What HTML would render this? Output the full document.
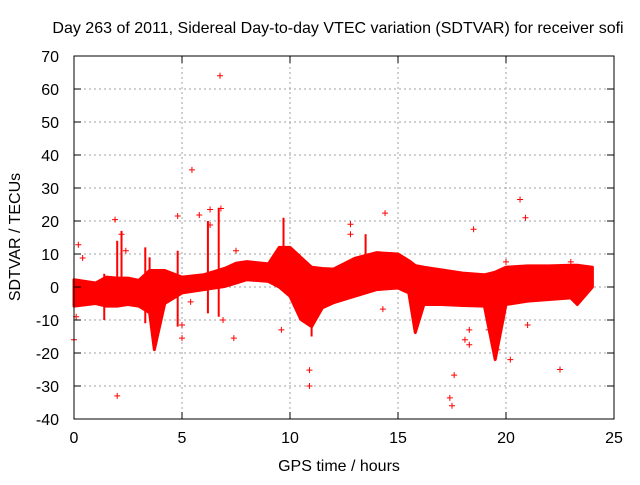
<!DOCTYPE html>
<html><head><meta charset="utf-8"><style>
body{margin:0;background:#fff;}
svg text{font-family:"Liberation Sans",sans-serif;font-size:16px;fill:#000;}
</style></head><body>
<svg id="chart" width="640" height="480" viewBox="0 0 640 480" xmlns="http://www.w3.org/2000/svg">
<rect width="640" height="480" fill="#fff"/>
<text x="338" y="33" text-anchor="middle">Day 263 of 2011, Sidereal Day-to-day VTEC variation (SDTVAR) for receiver sofi</text>
<text x="339" y="471" text-anchor="middle">GPS time / hours</text>
<text x="0" y="0" transform="translate(20,237) rotate(-90)" text-anchor="middle">SDTVAR / TECUs</text>
<g id="grid"></g>
<g id="band"></g>
<g id="ticks"></g>
</svg>
<script>
const xTicks=[0,5,10,15,20,25];
const yTicks=[-40,-30,-20,-10,0,10,20,30,40,50,60,70];
const bandT =[0,1,1.5,2,2.5,3,3.5,3.72,4.2,5,6,7,7.5,8,9,9.5,10,10.5,11,11.5,12,13,14,15,15.5,15.8,16.2,17,18,19,19.5,20,21,22,23,23.3,24];
const bandHi=[2.2,1.2,3,2.7,2.7,2,5,5,5,3,3.7,5.7,7.2,7.7,7,12,12,9,6,5.6,5.4,8.7,10.4,10,8,6.5,6,5.2,4.2,3.7,4.5,6,6.4,6.4,6.6,6.6,6];
const bandLo=[-5.8,-5,-5.8,-5.8,-5.3,-5.8,-7.8,-19,-5,-1.8,-0.8,0.2,1.2,2.2,1.7,0,-2.8,-9.8,-12,-6.3,-4.8,-2.8,-0.8,-0.3,-1.8,-13.8,-5.3,-5.3,-5.6,-5.8,-22,-5.3,-4.3,-3.8,-3.3,-5.3,0];
const spikeT =[9.7,13.5,2.0,2.2,3.3,3.5,4.8,6.7,11.0,6.2,1.4];
const spikeLo=[5,8,0,-2,-11,-8,-12,-9,-15,-8,-10];
const spikeHi=[21,16,14,17,12,9,11,24,-5,20,4];
const outT=[6.76,5.46,20.65,20.9,14.4,4.8,1.9,6.3,6.8,12.8,18.5,2.2,0.2,9.6,10.9,10.9,2.0,22.5,17.4,17.5,20.2,19.6,21,14.3,7.4,0.4,23,7.5,20,2.3,5,5,4,18.3,17.6,18.1,12.8,5.8,6.3,2.4,4.5,6.9,5.4,18.7,18.3,19.2,0,0.1];
const outV=[64,35.5,26.5,21,22.4,21.5,20.4,23.5,23.8,19,17.5,16,12.8,-13,-25.2,-30,-33,-25,-33.6,-36,-22,-19,-11.5,-6.7,-15.5,8.8,7.6,11,7.6,-4,-11.5,-15.5,-4,-13,-26.7,-16,16,21.8,18.8,11,-2.4,-10,-4.5,-4,-17.5,-13,-16,-9];
const X0=74,X1=614,Y0=419,Y1=56;
const xs=v=>X0+(v-0)/(25-0)*(X1-X0);
const ys=v=>Y0-(v-(-40))/(70-(-40))*(Y0-Y1);
const NS="http://www.w3.org/2000/svg";
function mk(tag,attrs,parent){const e=document.createElementNS(NS,tag);for(const k in attrs)e.setAttribute(k,attrs[k]);parent.appendChild(e);return e;}
const grid=document.getElementById('grid'),ticks=document.getElementById('ticks'),band=document.getElementById('band');
xTicks.forEach(t=>{
 if(t>0&&t<25){const g=mk('line',{x1:xs(t),x2:xs(t),y1:Y0,y2:Y1,stroke:'#a0a0a0','stroke-dasharray':'2,3'},grid);
 }
 const a=mk('line',{x1:xs(t),x2:xs(t),y1:Y0,y2:Y0-7,stroke:'#000'},ticks);
 
 mk('line',{x1:xs(t),x2:xs(t),y1:Y1,y2:Y1+7,stroke:'#000'},ticks);
 const l=mk('text',{x:xs(t),y:443,'text-anchor':'middle'},ticks);l.textContent=t;
 
});
yTicks.forEach(t=>{
 if(t>-40&&t<70){const g=mk('line',{x1:X0,x2:X1,y1:ys(t),y2:ys(t),stroke:'#a0a0a0','stroke-dasharray':'2,3'},grid);
 }
 const a=mk('line',{x1:X0,x2:X0+7,y1:ys(t),y2:ys(t),stroke:'#000'},ticks);
 
 mk('line',{x1:X1,x2:X1-7,y1:ys(t),y2:ys(t),stroke:'#000'},ticks);
 const l=mk('text',{x:59,y:ys(t)+6,'text-anchor':'end'},ticks);l.textContent=t;
 
});
const border=mk('rect',{x:X0,y:Y1,width:X1-X0,height:Y0-Y1,fill:'none',stroke:'#000'},ticks);

let pts=bandT.map((t,i)=>xs(t)+','+ys(bandHi[i]));
for(let i=bandT.length-1;i>=0;i--)pts.push(xs(bandT[i])+','+ys(bandLo[i]));
const poly=mk('polygon',{points:pts.join(' '),fill:'#ff0000',stroke:'#ff0000','stroke-width':3,'stroke-linejoin':'round'},band);

spikeT.forEach((t,i)=>{
 const s=mk('line',{x1:xs(t),x2:xs(t),y1:ys(spikeLo[i]),y2:ys(spikeHi[i]),stroke:'#ff0000','stroke-width':2},band);
 
});
outT.forEach((t,i)=>{
 const x=xs(t),y=ys(outV[i]);
 const p=mk('path',{d:`M${x-3},${y}H${x+3}M${x},${y-3}V${y+3}`,stroke:'#ff0000','stroke-width':1},band);
 
});
</script>
</body></html>
